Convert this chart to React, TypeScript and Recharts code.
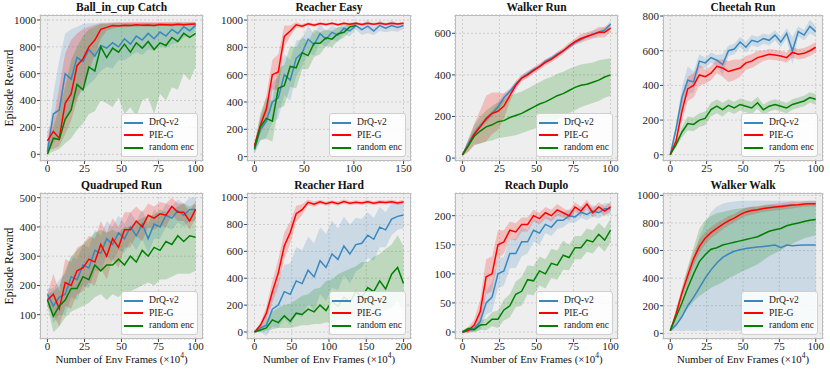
import { Area, CartesianGrid, ComposedChart, Line, XAxis, YAxis } from "recharts";

const FONT = "'Liberation Serif', 'Times New Roman', 'DejaVu Serif', serif";
const BLUE = "#3a87c0";
const RED = "#ff0000";
const GREEN = "#008000";

const FRAMES_100 = [0, 4, 8, 12, 16, 20, 24, 28, 32, 36, 40, 44, 48, 52, 56, 60, 64, 68, 72, 76, 80, 84, 88, 92, 96, 100];
const FRAMES_150 = [0, 6, 12, 18, 24, 30, 36, 42, 48, 54, 60, 66, 72, 78, 84, 90, 96, 102, 108, 114, 120, 126, 132, 138, 144, 150];
const FRAMES_200 = [0, 8, 16, 24, 32, 40, 48, 56, 64, 72, 80, 88, 96, 104, 112, 120, 128, 136, 144, 152, 160, 168, 176, 184, 192, 200];

const METHODS = ["DrQ-v2", "PIE-G", "random enc"];

// Ball_in_cup Catch
const ballDrq = [20, 300, 330, 600, 560, 720, 690, 780, 730, 810, 790, 830, 800, 860, 820, 880, 850, 900, 860, 910, 880, 930, 900, 950, 920, 960];
const ballDrqLo = [0, 80, 150, 250, 350, 420, 480, 520, 560, 620, 650, 640, 700, 700, 730, 760, 740, 780, 770, 800, 790, 820, 830, 870, 880, 920];
const ballDrqHi = [60, 450, 700, 900, 930, 950, 970, 975, 975, 980, 980, 980, 980, 980, 980, 980, 980, 980, 980, 980, 980, 980, 980, 980, 980, 985];
const ballPie = [100, 170, 120, 380, 450, 660, 710, 800, 850, 930, 945, 958, 955, 960, 958, 965, 960, 962, 958, 966, 964, 962, 968, 964, 968, 970];
const ballPieLo = [30, 40, 60, 150, 250, 400, 520, 620, 740, 860, 920, 935, 945, 945, 950, 950, 952, 950, 950, 955, 955, 952, 958, 955, 958, 960];
const ballPieHi = [170, 250, 500, 750, 850, 900, 930, 950, 965, 975, 980, 982, 984, 983, 985, 984, 985, 984, 983, 985, 985, 984, 986, 985, 986, 987];
const ballRnd = [0, 120, 110, 260, 330, 520, 480, 650, 620, 800, 720, 790, 760, 820, 760, 830, 790, 840, 780, 830, 810, 870, 840, 900, 870, 900];
const ballRndLo = [0, 20, 40, 80, 120, 180, 230, 300, 320, 400, 380, 350, 420, 300, 350, 280, 400, 420, 300, 450, 400, 500, 480, 600, 550, 650];
const ballRndHi = [30, 200, 350, 500, 700, 800, 880, 930, 950, 970, 970, 975, 975, 975, 975, 975, 978, 978, 978, 978, 980, 980, 980, 980, 980, 980];

// Reacher Easy
const easyDrq = [50, 200, 260, 400, 430, 600, 560, 720, 760, 860, 820, 900, 860, 910, 890, 940, 920, 960, 930, 955, 920, 960, 940, 960, 945, 960];
const easyDrqSpread = [30, 80, 120, 150, 150, 150, 150, 130, 100, 100, 80, 70, 60, 50, 50, 40, 40, 30, 40, 50, 30, 40, 30, 40, 30, 25];
const easyPie = [80, 230, 350, 600, 620, 880, 920, 965, 955, 972, 962, 975, 968, 976, 965, 976, 970, 976, 968, 976, 970, 977, 970, 976, 972, 976];
const easyPieSpread = [20, 60, 100, 110, 130, 80, 40, 20, 15, 12, 12, 10, 10, 10, 10, 10, 10, 10, 10, 10, 10, 10, 10, 10, 10, 10];
const easyRnd = [60, 220, 280, 260, 500, 520, 660, 650, 760, 740, 830, 830, 870, 860, 900, 910, 950, 960, null, null, null, null, null, null, null, null];
const easyRndSpread = [30, 100, 150, 150, 150, 150, 150, 150, 120, 100, 100, 80, 60, 60, 50, 40, 30, 20, null, null, null, null, null, null, null, null];

// Walker Run
const runDrq = [15, 70, 120, 155, 185, 215, 245, 290, 320, 355, 385, 405, 425, 440, 465, 480, 500, 515, 535, 555, 570, 585, 595, 605, 615, 645];
const runDrqSpread = [5, 15, 15, 15, 15, 15, 20, 20, 15, 15, 15, 15, 10, 10, 10, 10, 10, 10, 10, 10, 10, 10, 15, 15, 15, 15];
const runPie = [15, 60, 115, 150, 190, 215, 225, 250, 300, 350, 385, 400, 420, 440, 460, 475, 495, 515, 540, 560, 575, 585, 595, 605, 605, 625];
const runPieSpread = [5, 30, 50, 80, 110, 100, 90, 60, 30, 20, 15, 15, 15, 15, 15, 15, 15, 15, 15, 15, 20, 20, 20, 25, 25, 20];
const runRnd = [15, 60, 105, 130, 150, 160, 175, 180, 195, 205, 215, 230, 245, 260, 270, 285, 300, 310, 325, 340, 350, 355, 365, 375, 390, 400];
const runRndLo = [10, 30, 60, 70, 80, 85, 95, 100, 105, 110, 120, 130, 140, 150, 160, 175, 185, 200, 215, 230, 245, 255, 265, 275, 290, 300];
const runRndHi = [20, 90, 160, 200, 230, 250, 270, 280, 300, 310, 320, 335, 350, 365, 380, 390, 405, 415, 430, 440, 450, 455, 460, 470, 475, 480];

// Cheetah Run
const cheetahDrq = [0, 150, 330, 430, 420, 540, 530, 560, 545, 520, 600, 610, 650, 620, 660, 650, 670, 660, 690, 650, 700, 600, 710, 690, 740, 710];
const cheetahDrqSpread = [0, 30, 60, 80, 60, 40, 30, 30, 30, 60, 30, 30, 30, 30, 30, 30, 30, 30, 30, 30, 30, 80, 30, 30, 40, 30];
const cheetahPie = [0, 80, 250, 380, 400, 460, 450, 470, 510, 500, 480, 490, 500, 530, 540, 560, 570, 580, 575, 570, 560, 590, 580, 585, 600, 620];
const cheetahPieSpread = [0, 30, 60, 70, 70, 60, 40, 40, 40, 50, 60, 60, 50, 40, 40, 40, 30, 30, 30, 30, 30, 30, 30, 30, 30, 30];
const cheetahRnd = [0, 60, 130, 180, 175, 200, 210, 260, 280, 260, 285, 270, 290, 280, 270, 300, 260, 280, 290, 280, 270, 290, 300, 310, 330, 320];
const cheetahRndSpread = [0, 20, 30, 40, 40, 40, 40, 40, 40, 40, 35, 35, 35, 35, 35, 35, 30, 30, 30, 30, 30, 30, 30, 30, 30, 30];

// Quadruped Run
const quadDrq = [170, 130, 160, 170, 230, 220, 270, 260, 320, 310, 360, 340, 380, 360, 400, 370, 410, 360, 410, 400, 440, 430, 455, 440, 460, 460];
const quadDrqSpread = [20, 60, 60, 70, 70, 70, 70, 70, 70, 60, 60, 60, 60, 50, 50, 50, 50, 50, 50, 40, 40, 40, 40, 40, 40, 40];
const quadPie = [150, 170, 120, 210, 200, 250, 260, 290, 280, 340, 300, 360, 330, 390, 390, 420, 400, 440, 430, 445, 440, 470, 450, 450, 420, 460];
const quadPieSpread = [20, 70, 60, 80, 80, 80, 80, 80, 80, 80, 80, 70, 70, 60, 60, 50, 50, 40, 40, 40, 40, 30, 30, 30, 30, 30];
const quadRnd = [150, 95, 130, 150, 190, 190, 230, 220, 270, 250, 270, 270, 290, 270, 300, 280, 320, 300, 330, 320, 350, 340, 370, 350, 370, 365];
const quadRndLo = [130, 40, 60, 90, 110, 120, 130, 140, 160, 170, 150, 170, 160, 180, 180, 190, 200, 210, 200, 220, 220, 230, 240, 240, 240, 250];
const quadRndHi = [170, 180, 200, 250, 300, 320, 340, 360, 380, 390, 380, 390, 380, 400, 400, 420, 430, 440, 440, 460, 450, 460, 470, 480, 470, 480];

// Reacher Hard
const hardDrq = [0, 30, 50, 170, 200, 300, 280, 380, 360, 460, 410, 530, 480, 580, 540, 640, 580, 650, 660, 720, 690, 780, 760, 840, 860, 870];
const hardDrqSpread = [5, 30, 80, 130, 170, 200, 230, 250, 250, 250, 250, 250, 250, 250, 230, 220, 220, 200, 180, 170, 160, 150, 130, 120, 100, 100];
const hardPie = [0, 50, 140, 300, 440, 640, 740, 880, 910, 965, 950, 968, 955, 966, 955, 970, 958, 966, 960, 968, 958, 967, 963, 969, 960, 968];
const hardPieSpread = [5, 20, 50, 80, 100, 100, 80, 60, 40, 20, 20, 15, 15, 15, 15, 15, 15, 15, 15, 15, 15, 15, 15, 15, 15, 15];
const hardRnd = [0, 15, 30, 90, 70, 120, 80, 140, 130, 170, 150, 200, 160, 230, 190, 260, 220, 300, 260, 330, 300, 380, 320, 430, 480, 360];
const hardRndLo = [0, 0, 10, 20, 30, 30, 30, 40, 50, 50, 60, 60, 70, 70, 90, 90, 100, 110, 120, 120, 140, 150, 160, 180, 230, 160];
const hardRndHi = [5, 30, 90, 150, 180, 200, 210, 240, 270, 280, 320, 330, 380, 390, 430, 450, 470, 490, 520, 520, 560, 580, 620, 650, 720, 640];

// Reach Duplo
const duploDrq = [0, 2, 6, 18, 50, 60, 100, 105, 135, 135, 155, 155, 175, 170, 185, 180, 192, 192, 200, 198, 206, 202, 208, 205, 212, 212];
const duploDrqSpread = [2, 3, 5, 15, 20, 25, 25, 25, 25, 25, 25, 20, 20, 20, 15, 15, 15, 12, 12, 10, 10, 10, 10, 10, 10, 10];
const duploPie = [0, 3, 12, 35, 95, 100, 150, 155, 175, 172, 185, 185, 200, 195, 205, 200, 210, 205, 200, 215, 208, 220, 205, 215, 208, 215];
const duploPieSpread = [2, 5, 10, 20, 30, 30, 25, 20, 15, 15, 12, 12, 10, 10, 10, 10, 10, 8, 8, 8, 8, 8, 8, 8, 8, 8];
const duploRnd = [0, 6, 4, 12, 13, 22, 22, 38, 45, 65, 70, 90, 88, 105, 100, 118, 115, 132, 128, 145, 145, 158, 155, 168, 158, 175];
const duploRndSpread = [2, 3, 5, 8, 10, 12, 15, 18, 20, 22, 25, 25, 25, 25, 25, 25, 25, 25, 22, 20, 20, 20, 20, 20, 20, 20];

// Walker Walk
const walkDrq = [20, 60, 120, 200, 260, 330, 400, 460, 510, 550, 575, 595, 605, 615, 620, 625, 630, 635, 640, 620, 640, 635, 638, 640, 640, 640];
const walkDrqLo = [15, 20, 15, 20, 15, 20, 15, 20, 15, 20, 20, 15, 20, 15, 20, 20, 20, 20, 20, 20, 20, 20, 20, 20, 20, 20];
const walkDrqHi = [25, 100, 220, 400, 550, 700, 800, 880, 920, 940, 950, 955, 960, 960, 960, 960, 960, 960, 960, 960, 960, 960, 960, 960, 960, 960];
const walkPie = [20, 140, 290, 420, 540, 630, 690, 730, 760, 790, 815, 835, 860, 880, 890, 895, 905, 910, 915, 920, 925, 930, 932, 938, 940, 940];
const walkPieSpread = [5, 30, 40, 50, 50, 50, 45, 40, 40, 35, 35, 30, 30, 30, 30, 25, 25, 25, 25, 25, 25, 25, 20, 20, 20, 20];
const walkRnd = [20, 120, 220, 330, 430, 520, 570, 610, 620, 640, 650, 660, 670, 680, 690, 700, 720, 740, 750, 760, 780, 790, 800, 810, 820, 825];
const walkRndLo = [20, 60, 120, 180, 230, 270, 300, 330, 350, 370, 400, 420, 440, 460, 480, 500, 530, 560, 580, 600, 630, 650, 670, 690, 700, 710];
const walkRndHi = [20, 180, 320, 480, 620, 760, 820, 850, 870, 880, 890, 900, 905, 910, 915, 920, 925, 930, 930, 930, 935, 935, 935, 935, 935, 935];

type Num = number | null;
interface Series {
  mean: Num[];
  spread?: Num[];
  lo?: Num[];
  hi?: Num[];
}

interface PanelDef {
  title: string;
  col: number;
  row: number;
  xs: number[];
  xDomain: [number, number];
  xTicks: number[];
  yDomain: [number, number];
  yTicks: number[];
  drq: Series;
  pie: Series;
  rnd: Series;
}

const PANELS: PanelDef[] = [
  {
    title: "Ball_in_cup Catch", col: 0, row: 0, xs: FRAMES_100, xDomain: [-5, 105], xTicks: [0, 25, 50, 75, 100],
    yDomain: [-50, 1037], yTicks: [0, 200, 400, 600, 800, 1000],
    drq: { mean: ballDrq, lo: ballDrqLo, hi: ballDrqHi },
    pie: { mean: ballPie, lo: ballPieLo, hi: ballPieHi },
    rnd: { mean: ballRnd, lo: ballRndLo, hi: ballRndHi },
  },
  {
    title: "Reacher Easy", col: 1, row: 0, xs: FRAMES_150, xDomain: [-7.5, 157.5], xTicks: [0, 50, 100, 150],
    yDomain: [-32, 1037], yTicks: [0, 200, 400, 600, 800, 1000],
    drq: { mean: easyDrq, spread: easyDrqSpread },
    pie: { mean: easyPie, spread: easyPieSpread },
    rnd: { mean: easyRnd, spread: easyRndSpread },
  },
  {
    title: "Walker Run", col: 2, row: 0, xs: FRAMES_100, xDomain: [-5, 105], xTicks: [0, 25, 50, 75, 100],
    yDomain: [-14, 688], yTicks: [0, 200, 400, 600],
    drq: { mean: runDrq, spread: runDrqSpread },
    pie: { mean: runPie, spread: runPieSpread },
    rnd: { mean: runRnd, lo: runRndLo, hi: runRndHi },
  },
  {
    title: "Cheetah Run", col: 3, row: 0, xs: FRAMES_100, xDomain: [-5, 105], xTicks: [0, 25, 50, 75, 100],
    yDomain: [-36, 806], yTicks: [0, 200, 400, 600, 800],
    drq: { mean: cheetahDrq, spread: cheetahDrqSpread },
    pie: { mean: cheetahPie, spread: cheetahPieSpread },
    rnd: { mean: cheetahRnd, spread: cheetahRndSpread },
  },
  {
    title: "Quadruped Run", col: 0, row: 1, xs: FRAMES_100, xDomain: [-5, 105], xTicks: [0, 25, 50, 75, 100],
    yDomain: [17, 516], yTicks: [100, 200, 300, 400, 500],
    drq: { mean: quadDrq, spread: quadDrqSpread },
    pie: { mean: quadPie, spread: quadPieSpread },
    rnd: { mean: quadRnd, lo: quadRndLo, hi: quadRndHi },
  },
  {
    title: "Reacher Hard", col: 1, row: 1, xs: FRAMES_200, xDomain: [-10, 210], xTicks: [0, 50, 100, 150, 200],
    yDomain: [-52, 1034], yTicks: [0, 200, 400, 600, 800, 1000],
    drq: { mean: hardDrq, spread: hardDrqSpread },
    pie: { mean: hardPie, spread: hardPieSpread },
    rnd: { mean: hardRnd, lo: hardRndLo, hi: hardRndHi },
  },
  {
    title: "Reach Duplo", col: 2, row: 1, xs: FRAMES_100, xDomain: [-5, 105], xTicks: [0, 25, 50, 75, 100],
    yDomain: [-12, 239], yTicks: [0, 50, 100, 150, 200],
    drq: { mean: duploDrq, spread: duploDrqSpread },
    pie: { mean: duploPie, spread: duploPieSpread },
    rnd: { mean: duploRnd, spread: duploRndSpread },
  },
  {
    title: "Walker Walk", col: 3, row: 1, xs: FRAMES_100, xDomain: [-5, 105], xTicks: [0, 25, 50, 75, 100],
    yDomain: [-41, 1017], yTicks: [0, 200, 400, 600, 800, 1000],
    drq: { mean: walkDrq, lo: walkDrqLo, hi: walkDrqHi },
    pie: { mean: walkPie, spread: walkPieSpread },
    rnd: { mean: walkRnd, lo: walkRndLo, hi: walkRndHi },
  },
];

// plot-area rectangles (pixels)
const PLOT_LEFT = [40, 247, 455, 663];
const PLOT_RIGHT = [203, 411, 618, 823];
const ROW_TOP = [15, 193];
const ROW_BOTTOM = [161, 339];
const Y_AXIS_W = 40;
const X_AXIS_H = 22;
const TOP_PAD = 8;

function buildRows(p: PanelDef) {
  const keys: [string, Series][] = [["drq", p.drq], ["pie", p.pie], ["rnd", p.rnd]];
  return p.xs.map((x, i) => {
    const row: Record<string, unknown> = { x };
    keys.forEach(([k, s]) => {
      const m = s.mean[i];
      if (m == null) {
        row[k] = null;
        row[k + "Band"] = null;
        return;
      }
      const lo = s.lo ? s.lo[i] : m - (s.spread?.[i] ?? 0);
      const hi = s.hi ? s.hi[i] : m + (s.spread?.[i] ?? 0);
      row[k] = m;
      row[k + "Band"] = [lo, hi];
    });
    return row;
  });
}

const tickStyle = { fontSize: 11, fill: "#222", fontFamily: FONT };

function LegendBox({ right, bottom }: { right: number; bottom: number }) {
  const colors = [BLUE, RED, GREEN];
  return (
    <div
      style={{
        position: "absolute",
        left: right - 5 - 77,
        top: bottom - 4 - 44,
        width: 77,
        height: 44,
        boxSizing: "border-box",
        border: "1px solid #cfcfcf",
        borderRadius: 3,
        background: "rgba(255,255,255,0.85)",
        paddingTop: 2,
      }}
    >
      {METHODS.map((m, i) => (
        <div key={m} style={{ position: "relative", height: 12.6 }}>
          <div style={{ position: "absolute", left: 2, top: 5.5, width: 19, height: 2, background: colors[i] }} />
          <div
            style={{
              position: "absolute",
              left: 27,
              top: 0,
              fontFamily: FONT,
              fontSize: 9.6,
              lineHeight: "12.6px",
              color: "#222",
              whiteSpace: "nowrap",
            }}
          >
            {m}
          </div>
        </div>
      ))}
    </div>
  );
}

function Panel({ p }: { p: PanelDef }) {
  const left = PLOT_LEFT[p.col];
  const right = PLOT_RIGHT[p.col];
  const top = ROW_TOP[p.row];
  const bottom = ROW_BOTTOM[p.row];
  const w = right - left;
  const h = bottom - top;
  const data = buildRows(p);
  return (
    <>
      <div
        style={{
          position: "absolute",
          left,
          width: w,
          top: top - 14,
          height: 13,
          lineHeight: "13px",
          textAlign: "center",
          fontFamily: FONT,
          fontWeight: "bold",
          fontSize: 11.5,
          color: "#111",
          whiteSpace: "nowrap",
        }}
      >
        {p.title}
      </div>
      <div style={{ position: "absolute", left: left - Y_AXIS_W, top: top - TOP_PAD }}>
        <ComposedChart
          width={w + Y_AXIS_W + 4}
          height={h + TOP_PAD + X_AXIS_H}
          data={data}
          margin={{ top: TOP_PAD, right: 4, left: 0, bottom: 0 }}
        >
          <CartesianGrid fill="#eeeeee" fillOpacity={1} stroke="#cdcdcd" strokeDasharray="2 2" />
          <XAxis
            dataKey="x"
            type="number"
            domain={p.xDomain}
            ticks={p.xTicks}
            allowDataOverflow
            height={X_AXIS_H}
            axisLine={false}
            tickSize={3}
            tickMargin={0}
            tickLine={{ stroke: "#444" }}
            tick={tickStyle}
            interval={0}
          />
          <YAxis
            type="number"
            domain={p.yDomain}
            ticks={p.yTicks}
            allowDataOverflow
            width={Y_AXIS_W}
            axisLine={false}
            tickSize={3}
            tickMargin={1}
            tickLine={{ stroke: "#444" }}
            tick={tickStyle}
            interval={0}
          />
          <Area dataKey="drqBand" type="linear" stroke="none" fill={BLUE} fillOpacity={0.2} isAnimationActive={false} />
          <Area dataKey="pieBand" type="linear" stroke="none" fill={RED} fillOpacity={0.2} isAnimationActive={false} />
          <Area dataKey="rndBand" type="linear" stroke="none" fill={GREEN} fillOpacity={0.2} isAnimationActive={false} />
          <Line dataKey="drq" type="linear" stroke={BLUE} strokeWidth={1.5} dot={false} isAnimationActive={false} />
          <Line dataKey="pie" type="linear" stroke={RED} strokeWidth={1.5} dot={false} isAnimationActive={false} />
          <Line dataKey="rnd" type="linear" stroke={GREEN} strokeWidth={1.5} dot={false} isAnimationActive={false} />
        </ComposedChart>
      </div>
      <div
        style={{
          position: "absolute",
          left,
          top,
          width: w,
          height: h,
          boxSizing: "border-box",
          border: "1px solid #bcbcbc",
          pointerEvents: "none",
        }}
      />
      <LegendBox right={right} bottom={bottom} />
      {p.row === 1 && (
        <div
          style={{
            position: "absolute",
            left: left - 20,
            width: w + 40,
            top: bottom + 13,
            height: 14,
            lineHeight: "14px",
            textAlign: "center",
            fontFamily: FONT,
            fontSize: 10.8,
            color: "#111",
            whiteSpace: "nowrap",
          }}
        >
          Number of Env Frames (×10<sup style={{ fontSize: 7.5, lineHeight: 0 }}>4</sup>)
        </div>
      )}
      {p.col === 0 && (
        <div
          style={{
            position: "absolute",
            left: 10 - 50,
            top: (top + bottom) / 2 - 7,
            width: 100,
            height: 14,
            lineHeight: "14px",
            textAlign: "center",
            fontFamily: FONT,
            fontSize: 11.7,
            color: "#111",
            transform: "rotate(-90deg)",
            whiteSpace: "nowrap",
          }}
        >
          Episode Reward
        </div>
      )}
    </>
  );
}

export default function App() {
  return (
    <div
      style={{
        position: "absolute",
        left: 0,
        top: 0,
        width: 830,
        height: 369,
        background: "#fff",
        overflow: "hidden",
      }}
    >
      {PANELS.map((p) => (
        <Panel key={p.title} p={p} />
      ))}
    </div>
  );
}
